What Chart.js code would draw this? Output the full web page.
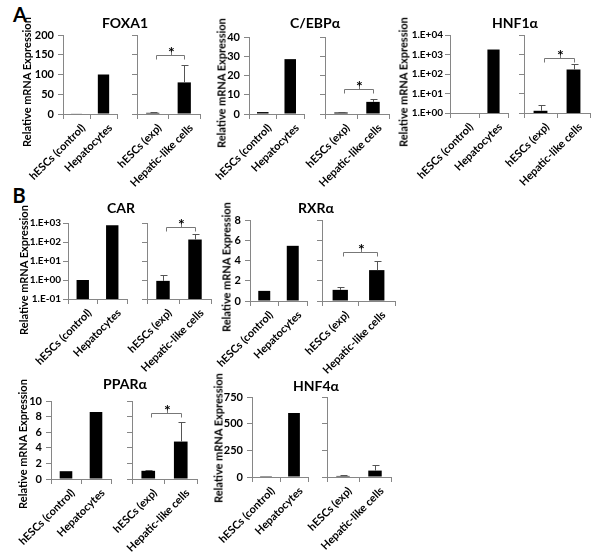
<!DOCTYPE html>
<html>
<head>
<meta charset="utf-8">
<script src="https://cdn.jsdelivr.net/npm/chart.js@4.4.1/dist/chart.umd.min.js"></script>
<style>
body{margin:0;background:#fff;width:600px;height:553px;position:relative;overflow:hidden;font-family:Lato,sans-serif;color:#000}
canvas{position:absolute}
.t{position:absolute;font-weight:bold;transform:translate(-50%,-50%);white-space:nowrap}
.yt{position:absolute;font-weight:bold;font-size:11px;transform:translate(-50%,-50%) rotate(-90deg);white-space:nowrap}
</style>
</head>
<body>
<div class="t" style="left:20px;top:14px;font-size:20px">A</div>
<div class="t" style="left:19px;top:195px;font-size:20px">B</div>
<div id="texts"></div>
<script>
// categories
const ctrlLabels = ["hESCs (control)", "Hepatocytes"];
const expLabels = ["hESCs (exp)", "Hepatic-like cells"];

// values (left pair = control, right pair = exp, errors = upper bars)
const foxa1Ctrl = [1, 100];
const foxa1Exp = [3, 80];
const foxa1Err = [3, 45];
const foxa1Sig = 150;

const cebpCtrl = [1, 28.5];
const cebpExp = [0.8, 6.3];
const cebpErr = [0.2, 1.6];
const cebpSig = 13;

const hnf1Ctrl = [1, 1800];
const hnf1Exp = [1.3, 170];
const hnf1Err = [1.3, 150];
const hnf1Sig = 700;

const carCtrl = [1, 750];
const carExp = [0.9, 135];
const carErr = [0.9, 140];
const carSig = 650;

const rxrCtrl = [1, 5.45];
const rxrExp = [1.1, 3.05];
const rxrErr = [0.25, 0.9];
const rxrSig = 4.8;

const pparCtrl = [1, 8.6];
const pparExp = [1.05, 4.8];
const pparErr = [0.1, 2.45];
const pparSig = 8.4;

const hnf4Ctrl = [1, 600];
const hnf4Exp = [10, 60];
const hnf4Err = [6, 50];

// tick labels for the log axes
const hnf1Ticks = [1, 10, 100, 1000, 10000];
const carTicks = [0.1, 1, 10, 100, 1000];

Chart.defaults.font.family = "Lato";
Chart.defaults.color = "#000";

const AXIS = "#868686";
const padL = 70, padR = 8, padT = 25, padB = 85, yw = 40;

function sci(v) {
  const e = Math.round(Math.log10(v));
  return "1.E" + (e < 0 ? "-" : "+") + String(Math.abs(e)).padStart(2, "0");
}

const xLabels = {
  id: "xlabels",
  afterDraw(chart) {
    const x = chart.scales.x, ctx = chart.ctx;
    ctx.save();
    ctx.font = "bold 11px Lato";
    ctx.fillStyle = "#000";
    ctx.textAlign = "right";
    ctx.textBaseline = "middle";
    chart.data.labels.forEach((lab, i) => {
      ctx.save();
      ctx.translate(x.getPixelForValue(i) + 7, x.top + 12);
      ctx.rotate(-Math.PI / 4);
      ctx.fillText(lab, 0, 0);
      ctx.restore();
    });
    ctx.restore();
  }
};

const errBars = {
  id: "errbars",
  afterDatasetsDraw(chart, args, opts) {
    if (!opts.errs) return;
    const meta = chart.getDatasetMeta(0), y = chart.scales.y, ctx = chart.ctx;
    const vals = chart.data.datasets[0].data;
    ctx.save();
    ctx.strokeStyle = "#555";
    ctx.lineWidth = 1;
    meta.data.forEach((bar, i) => {
      const top = Math.round(y.getPixelForValue(vals[i] + opts.errs[i])) + 0.5;
      const cx = Math.round(bar.x) + 0.5;
      ctx.beginPath();
      ctx.moveTo(cx, bar.y);
      ctx.lineTo(cx, top);
      ctx.moveTo(cx - 3, top);
      ctx.lineTo(cx + 4, top);
      ctx.stroke();
    });
    ctx.restore();
  }
};

const sigMark = {
  id: "sig",
  afterDatasetsDraw(chart, args, opts) {
    if (opts.level == null) return;
    const meta = chart.getDatasetMeta(0), y = chart.scales.y, ctx = chart.ctx;
    const yy = Math.round(y.getPixelForValue(opts.level)) + 0.5;
    const x0 = Math.round(meta.data[0].x) + 3.5, x1 = Math.round(meta.data[1].x) + 0.5;
    const xm = Math.round((x0 + x1) / 2) + 0.5;
    ctx.save();
    ctx.strokeStyle = "#777";
    ctx.lineWidth = 1;
    ctx.beginPath();
    ctx.moveTo(x0, yy + 4); ctx.lineTo(x0, yy); ctx.lineTo(x1, yy); ctx.lineTo(x1, yy + 4);
    ctx.moveTo(xm, yy); ctx.lineTo(xm, yy - 4);
    ctx.stroke();
    ctx.fillStyle = "#000";
    ctx.font = "bold 16px Lato";
    ctx.textAlign = "center";
    ctx.textBaseline = "alphabetic";
    ctx.fillText("*", xm, yy + 2);
    ctx.restore();
  }
};

function draw(box, labels, values, errs, sig, yAxis, showY) {
  const cv = document.createElement("canvas");
  const w = box.r - box.l + padL + padR, h = box.b - box.t + padT + padB;
  cv.width = w; cv.height = h;
  cv.style.left = (box.l - padL) + "px";
  cv.style.top = (box.t - padT) + "px";
  document.body.appendChild(cv);

  const y = {
    type: yAxis.log ? "logarithmic" : "linear",
    min: yAxis.min, max: yAxis.max,
    ticks: {
      display: showY,
      autoSkip: false,
      stepSize: yAxis.step,
      padding: yAxis.log ? 2 : 4,
      font: { size: yAxis.log ? 10 : 11, weight: "bold" },
      callback: v => yAxis.log ? sci(v) : v
    },
    grid: { drawOnChartArea: false, drawTicks: true, tickLength: 5, color: AXIS },
    border: { color: AXIS },
    afterFit: s => { s.width = yw; }
  };
  if (yAxis.log) y.afterBuildTicks = s => { s.ticks = yAxis.ticks.map(v => ({ value: v })); };

  new Chart(cv.getContext("2d"), {
    type: "bar",
    data: {
      labels: labels,
      datasets: [{
        data: values,
        backgroundColor: "#000",
        borderWidth: 0,
        barPercentage: 0.42,
        categoryPercentage: 1
      }]
    },
    options: {
      responsive: false,
      animation: false,
      layout: { padding: { left: padL - yw, right: padR, top: padT, bottom: padB - 6 } },
      plugins: {
        legend: { display: false },
        tooltip: { enabled: false },
        errbars: { errs: errs },
        sig: { level: sig }
      },
      scales: {
        x: {
          ticks: { display: false },
          grid: { drawOnChartArea: false, drawTicks: true, tickLength: 5, color: AXIS, offset: true },
          border: { color: AXIS },
          afterFit: s => { s.height = 6; }
        },
        y: y
      }
    },
    plugins: [xLabels, errBars, sigMark]
  });
}

// gene title, y title, then the two sub-charts of each gene
const genes = [
  { title: "FOXA1", tx: 125, ty: 22, yx: 26, yy: 82,
    L: { l: 63, r: 117, t: 35, b: 114 }, R: { l: 137, r: 200, t: 35, b: 114 },
    ctrl: foxa1Ctrl, exp: foxa1Exp, err: foxa1Err, sig: foxa1Sig, y: { min: 0, max: 200, step: 50 } },
  { title: "C/EBPα", tx: 315, ty: 22, yx: 221, yy: 83,
    L: { l: 249, r: 304, t: 37, b: 114 }, R: { l: 325, r: 389, t: 37, b: 114 },
    ctrl: cebpCtrl, exp: cebpExp, err: cebpErr, sig: cebpSig, y: { min: 0, max: 40, step: 10 } },
  { title: "HNF1α", tx: 515, ty: 22, yx: 403, yy: 82,
    L: { l: 450, r: 508, t: 35, b: 113 }, R: { l: 524, r: 590, t: 35, b: 113 },
    ctrl: hnf1Ctrl, exp: hnf1Exp, err: hnf1Err, sig: hnf1Sig, y: { log: true, min: 1, max: 10000, ticks: hnf1Ticks } },
  { title: "CAR", tx: 121, ty: 207, yx: 23, yy: 270,
    L: { l: 68, r: 127, t: 223, b: 299 }, R: { l: 147, r: 211, t: 223, b: 299 },
    ctrl: carCtrl, exp: carExp, err: carErr, sig: carSig, y: { log: true, min: 0.1, max: 1000, ticks: carTicks } },
  { title: "RXRα", tx: 316, ty: 207, yx: 226, yy: 267,
    L: { l: 250, r: 307, t: 220, b: 301 }, R: { l: 322, r: 395, t: 220, b: 301 },
    ctrl: rxrCtrl, exp: rxrExp, err: rxrErr, sig: rxrSig, y: { min: 0, max: 8, step: 2 } },
  { title: "PPARα", tx: 125, ty: 383, yx: 22, yy: 444,
    L: { l: 51, r: 111, t: 401, b: 479 }, R: { l: 132, r: 197, t: 401, b: 479 },
    ctrl: pparCtrl, exp: pparExp, err: pparErr, sig: pparSig, y: { min: 0, max: 10, step: 2 } },
  { title: "HNF4α", tx: 316, ty: 385, yx: 218, yy: 438,
    L: { l: 252, r: 308, t: 397, b: 477 }, R: { l: 327, r: 391, t: 397, b: 477 },
    ctrl: hnf4Ctrl, exp: hnf4Exp, err: hnf4Err, sig: null, y: { min: 0, max: 750, step: 250 } }
];

const texts = document.getElementById("texts");
genes.forEach(g => {
  draw(g.L, ctrlLabels, g.ctrl, null, null, g.y, true);
  draw(g.R, expLabels, g.exp, g.err, g.sig, g.y, false);

  const t = document.createElement("div");
  t.className = "t";
  t.style.cssText = "left:" + g.tx + "px;top:" + g.ty + "px;font-size:14px";
  t.textContent = g.title;
  texts.appendChild(t);

  const yt = document.createElement("div");
  yt.className = "yt";
  yt.style.cssText = "left:" + g.yx + "px;top:" + g.yy + "px";
  yt.textContent = "Relative mRNA Expression";
  texts.appendChild(yt);
});
texts.style.position = "relative";
texts.style.zIndex = 2;
</script>
</body>
</html>
